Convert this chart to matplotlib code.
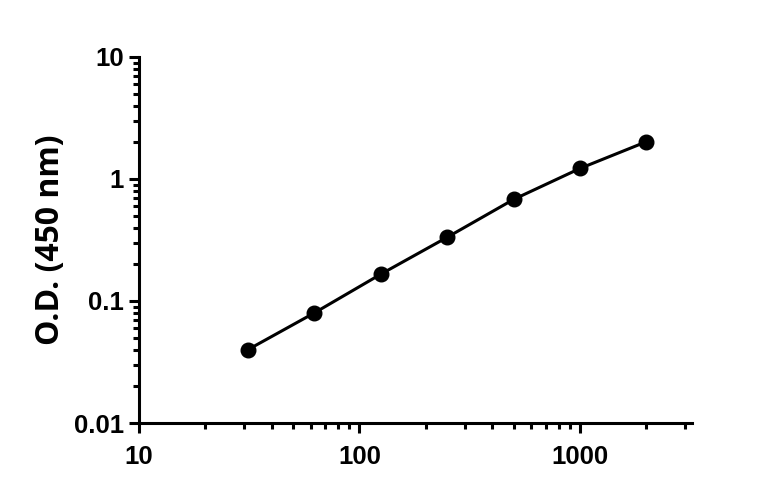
import numpy as np
import matplotlib.pyplot as plt
from matplotlib.ticker import LogLocator, FixedLocator, FixedFormatter, NullFormatter

plt.rcParams['font.family'] = ['Liberation Sans', 'DejaVu Sans']
plt.rcParams['font.weight'] = 'bold'

# standard concentrations and measured O.D.
conc = [31.25, 62.5, 125, 250, 500, 1000, 2000]
od = [0.040, 0.080, 0.166, 0.333, 0.68, 1.22, 2.02]

x_ticks = [10, 100, 1000]
x_labels = ["10", "100", "1000"]
y_ticks = [0.01, 0.1, 1, 10]
y_labels = ["0.01", "0.1", "1", "10"]

fig = plt.figure(figsize=(7.68, 4.94), dpi=100)
ax = fig.add_axes([0.181, 0.1437, 0.72, 0.741])

ax.plot(conc, od, color='black', lw=2.2, marker='o', ms=10.5, zorder=3)

ax.set_xscale('log')
ax.set_yscale('log')
ax.set_xlim(10, 3220)
ax.set_ylim(0.01, 10)

ax.xaxis.set_major_locator(FixedLocator(x_ticks))
ax.xaxis.set_major_formatter(FixedFormatter(x_labels))
ax.xaxis.set_minor_locator(LogLocator(base=10, subs=np.arange(2, 10)))
ax.xaxis.set_minor_formatter(NullFormatter())
ax.yaxis.set_major_locator(FixedLocator(y_ticks))
ax.yaxis.set_major_formatter(FixedFormatter(y_labels))
ax.yaxis.set_minor_locator(LogLocator(base=10, subs=np.arange(2, 10)))
ax.yaxis.set_minor_formatter(NullFormatter())

for s in ['top', 'right']:
    ax.spines[s].set_visible(False)
for s in ['left', 'bottom']:
    ax.spines[s].set_linewidth(2.2)

ax.tick_params(which='major', length=7, width=2.2, labelsize=18.5)
ax.tick_params(axis='x', which='major', pad=9)
ax.tick_params(axis='y', which='major', pad=4)
ax.tick_params(which='minor', length=4.5, width=2.2)
for lab in ax.get_xticklabels() + ax.get_yticklabels():
    lab.set_fontweight('bold')

ax.set_ylabel('O.D. (450 nm)', fontsize=23, fontweight='bold',
              family=['Open Sans', 'DejaVu Sans'])
ax.yaxis.set_label_coords(-0.13, 0.5)

fig.savefig('out.png', dpi=100)
